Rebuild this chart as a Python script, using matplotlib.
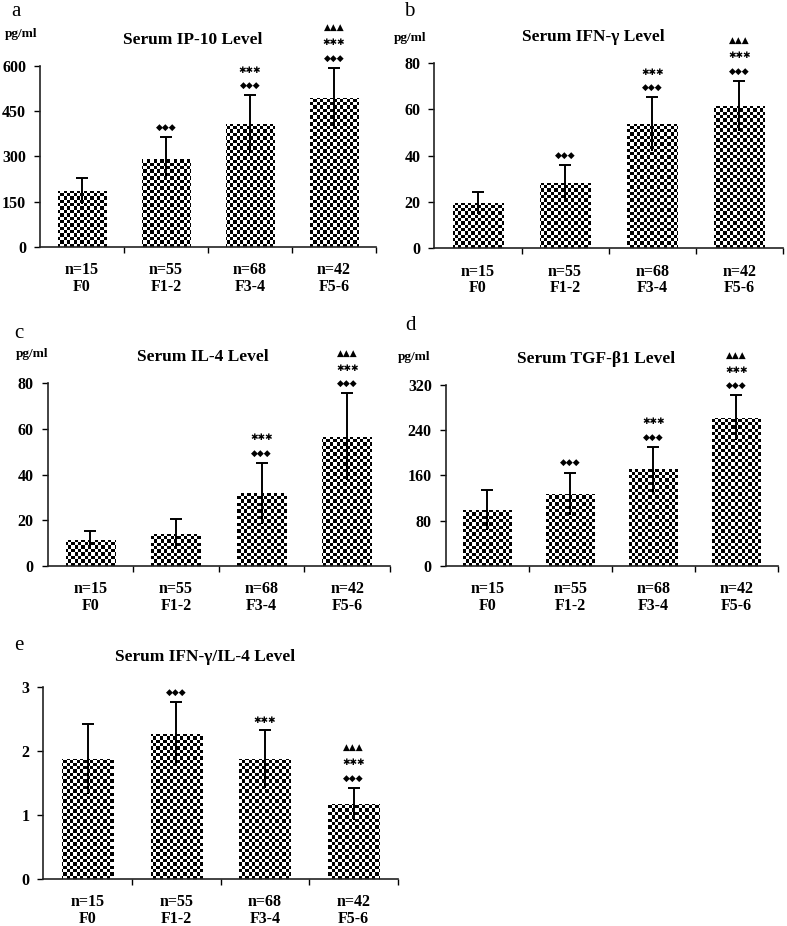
import numpy as np
import matplotlib
matplotlib.use("Agg")
import matplotlib.pyplot as plt
from matplotlib.ticker import FixedLocator

plt.rcParams["font.family"] = ["Liberation Serif", "DejaVu Sans"]

# ── Data ────────────────────────────────────────────────────────────
groups   = ["F0", "F1-2", "F3-4", "F5-6"]
n_counts = [15, 55, 68, 42]

ip10_mean  = [187, 293, 407, 494]
ip10_err   = [43, 71, 95, 100]
ifng_mean  = [19.7, 28.4, 53.6, 61.5]
ifng_err   = [4.8, 7.5, 11.6, 10.9]
il4_mean   = [11.4, 13.9, 31.8, 56.6]
il4_err    = [4.1, 6.5, 13.4, 19.0]
tgfb_mean  = [98.6, 127, 170.6, 262]
tgfb_err   = [35.4, 38, 40.2, 40]
ratio_mean = [1.87, 2.26, 1.87, 1.17]
ratio_err  = [0.54, 0.50, 0.45, 0.25]

# significance symbols above each bar (rows listed bottom → top)
D, S, T = "◆◆◆", "✱✱✱", "▲▲▲"
ip10_marks  = [[], [D], [D, S], [D, S, T]]
ifng_marks  = [[], [D], [D, S], [D, S, T]]
il4_marks   = [[], [], [D, S], [D, S, T]]
tgfb_marks  = [[], [D], [D, S], [D, S, T]]
ratio_marks = [[], [D], [S], [D, S, T]]

W, H = 787, 926
fig = plt.figure(figsize=(W / 100, H / 100), dpi=100)


def checker_bar(ax, bar, xlim, ylim):
    """Fill one bar with a fine black/white checkerboard, clipped to the bar."""
    pos = ax.get_position()
    nx = int(pos.width * W / 3.3)
    ny = int(pos.height * H / 3.3)
    ii, jj = np.meshgrid(np.arange(nx), np.arange(ny))
    board = (ii + jj) % 2
    im = ax.imshow(board, extent=(xlim[0], xlim[1], ylim[0], ylim[1]),
                   origin="lower", cmap="gray_r", interpolation="nearest",
                   aspect="auto", zorder=2)
    im.set_clip_path(bar)


def panel(rect, letter, title, means, errs, marks, yticks, unit=True,
          letter_xy=None, title_y=None, unit_xy=None):
    ax = fig.add_axes(rect)
    x = np.arange(len(groups))
    bars = ax.bar(x, means, width=0.58, color="white", edgecolor="none",
                  zorder=1)
    xlim = (-0.5, 3.5)
    ylim = (0, yticks[-1])
    for b in bars:
        checker_bar(ax, b, xlim, ylim)

    eb = ax.errorbar(x, means, yerr=errs, fmt="none", ecolor="black",
                     elinewidth=1.4, capsize=4.5, capthick=1.4, zorder=3)
    eb[1][0].set_visible(False)   # hide lower caps

    for xi, m, e, rows in zip(x, means, errs, marks):
        for k, sym in enumerate(rows):
            off = 7 + k * 11
            ax.annotate(sym, (xi, m + e), xytext=(0, off),
                        textcoords="offset points", ha="center",
                        va="center", fontsize=6.5,
                        family=["DejaVu Sans"], zorder=4)

    ax.set_xlim(*xlim)
    ax.set_ylim(*ylim)
    ax.set_yticks(yticks)
    ax.set_yticklabels([f"{t:g}" for t in yticks], fontsize=11.5,
                       fontweight="bold")
    ax.set_xticks(x)
    ax.set_xticklabels([f"n={n}\nF{g[1:]}" for n, g in zip(n_counts, groups)],
                       fontsize=11.5, fontweight="bold", linespacing=1.05)
    ax.xaxis.set_minor_locator(FixedLocator([0.5, 1.5, 2.5, 3.5]))
    ax.tick_params(axis="x", which="major", length=0, pad=11)
    ax.tick_params(axis="x", which="minor", length=4, width=1,
                   direction="out")
    ax.tick_params(axis="y", length=4, width=1, direction="out", pad=6)
    for s in ["top", "right"]:
        ax.spines[s].set_visible(False)
    for s in ["left", "bottom"]:
        ax.spines[s].set_linewidth(1.2)
        ax.spines[s].set_color("#222222")

    fig.text(letter_xy[0] / W, 1 - letter_xy[1] / H, letter, fontsize=15,
             ha="left", va="center")
    cx = rect[0] + rect[2] / 2
    fig.text(cx - 0.02, 1 - title_y / H, title, fontsize=12.5,
             fontweight="bold", ha="center", va="center")
    if unit:
        fig.text(unit_xy[0] / W, 1 - unit_xy[1] / H, "pg/ml", fontsize=9.5,
                 fontweight="bold", ha="left", va="center")
    return ax


panel([0.0508, 0.7333, 0.4270, 0.1955], "a", "Serum IP-10 Level",
      ip10_mean, ip10_err, ip10_marks, [0, 150, 300, 450, 600],
      letter_xy=(11, 12), title_y=40, unit_xy=(5, 34))
panel([0.5519, 0.7319, 0.4430, 0.1998], "b", "Serum IFN-γ Level",
      ifng_mean, ifng_err, ifng_marks, [0, 20, 40, 60, 80],
      letter_xy=(404, 12), title_y=37, unit_xy=(394, 38))
panel([0.0606, 0.3888, 0.4350, 0.1973], "c", "Serum IL-4 Level",
      il4_mean, il4_err, il4_marks, [0, 20, 40, 60, 80],
      letter_xy=(14, 333), title_y=357, unit_xy=(16, 354))
panel([0.5663, 0.3891, 0.4222, 0.1951], "d", "Serum TGF-β1 Level",
      tgfb_mean, tgfb_err, tgfb_marks, [0, 80, 160, 240, 320],
      letter_xy=(405, 325), title_y=359, unit_xy=(398, 357))
panel([0.0550, 0.0508, 0.4507, 0.2077], "e", "Serum IFN-γ/IL-4 Level",
      ratio_mean, ratio_err, ratio_marks, [0, 1, 2, 3], unit=False,
      letter_xy=(14, 646), title_y=657)

fig.savefig("out.png", dpi=100)
